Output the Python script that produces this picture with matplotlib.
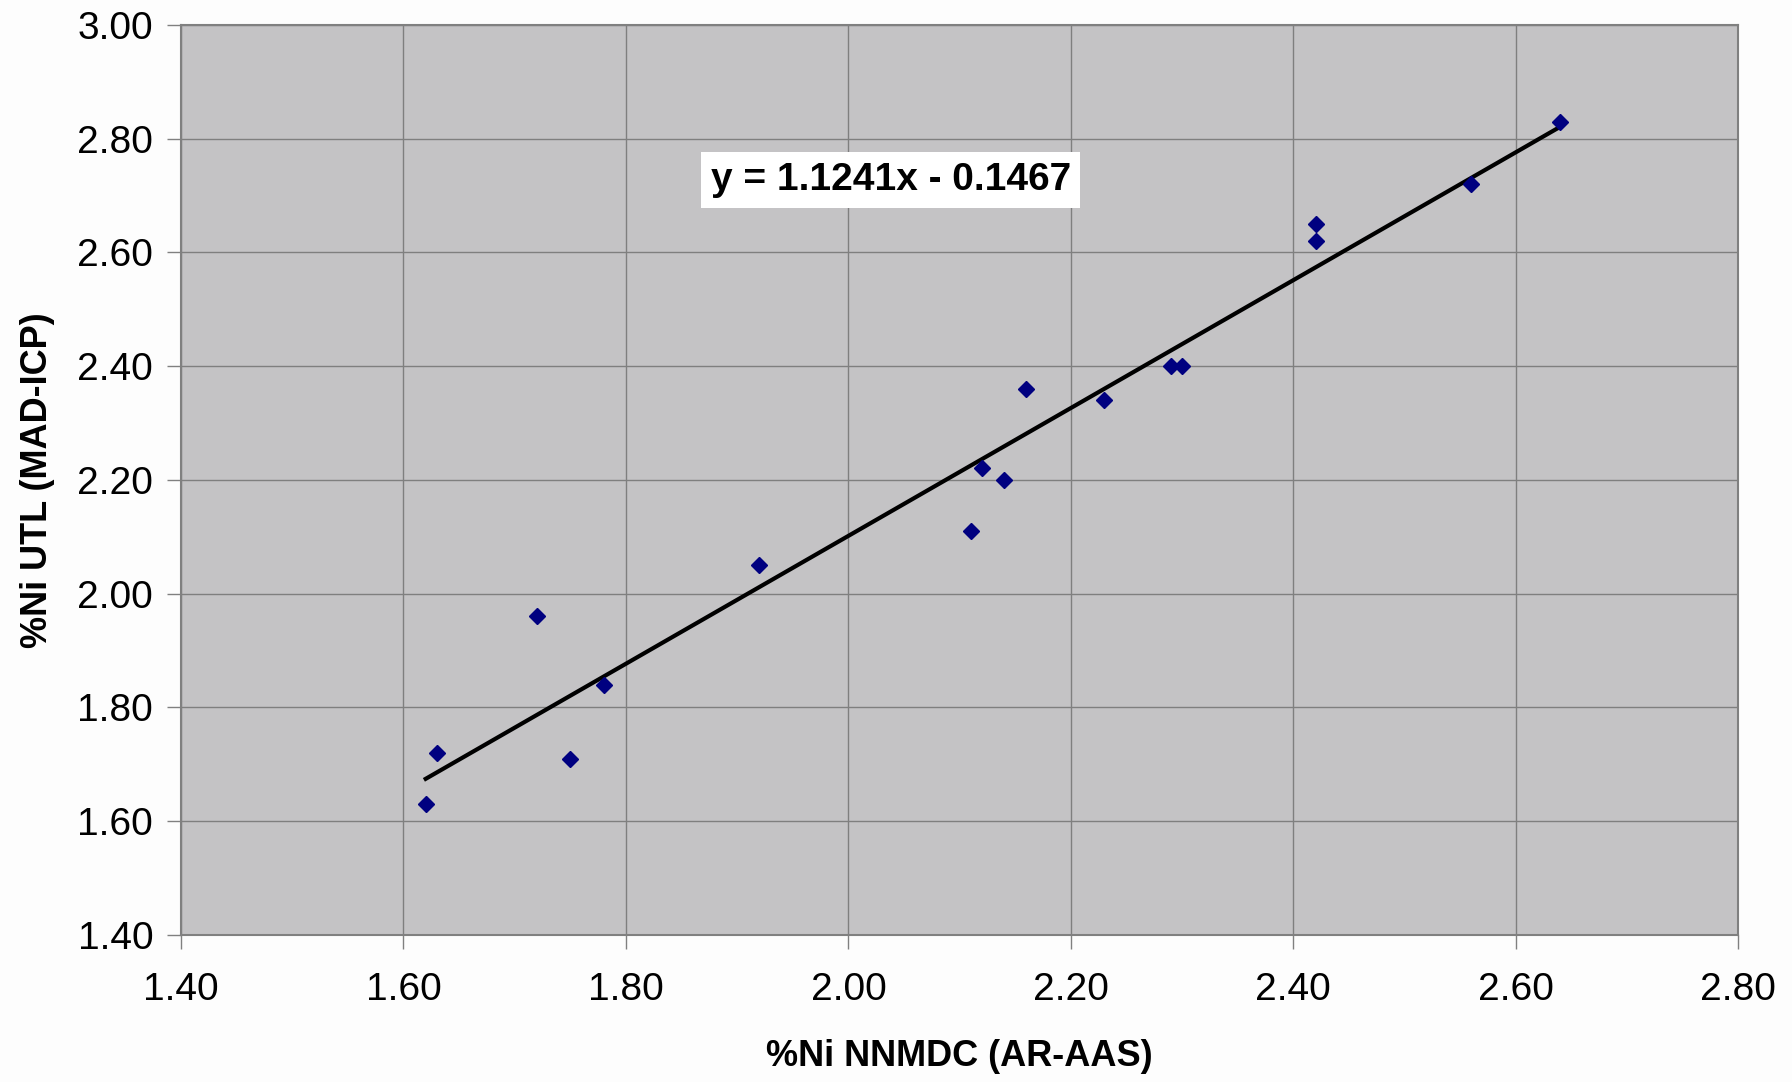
import matplotlib.pyplot as plt
import numpy as np

plt.rcParams['font.family'] = ['Liberation Sans', 'DejaVu Sans']

# %Ni NNMDC (AR-AAS) vs %Ni UTL (MAD-ICP)
ni_nnmdc = [1.62, 1.63, 1.72, 1.75, 1.78, 1.92, 2.11, 2.12, 2.14, 2.16,
            2.23, 2.29, 2.30, 2.42, 2.42, 2.56, 2.64]
ni_utl = [1.63, 1.72, 1.96, 1.71, 1.84, 2.05, 2.11, 2.22, 2.20, 2.36,
          2.34, 2.40, 2.40, 2.65, 2.62, 2.72, 2.83]

slope = 1.1241
intercept = -0.1467

ticks = [1.40, 1.60, 1.80, 2.00, 2.20, 2.40, 2.60, 2.80, 3.00]

fig = plt.figure(figsize=(17.92, 10.82), dpi=100)
ax = fig.add_axes([0.101, 0.136, 0.869, 0.841])
ax.set_facecolor('#c4c3c5')

ax.set_xlim(1.40, 2.80)
ax.set_ylim(1.40, 3.00)
ax.set_xticks(ticks[:-1])
ax.set_yticks(ticks)
ax.set_xticklabels([f'{t:.2f}' for t in ticks[:-1]])
ax.set_yticklabels([f'{t:.2f}' for t in ticks])
ax.grid(True, color='#7f7f7f', linewidth=1.0)
ax.set_axisbelow(True)
for s in ax.spines.values():
    s.set_color('#808080')
    s.set_linewidth(1.5)
ax.tick_params(length=10, width=1.0, color='#808080', labelsize=28, pad=10)
ax.tick_params(axis='x', pad=17)

# trendline
xs = np.array([min(ni_nnmdc), max(ni_nnmdc)])
ax.plot(xs, slope * xs + intercept, color='black', linewidth=3.0, zorder=3)

ax.plot(ni_nnmdc, ni_utl, 'D', color='#000080', markersize=8.5, zorder=4)

ax.text(2.038, 2.727, f'y = {slope:.4f}x - {abs(intercept):.4f}',
        fontsize=28, fontweight='bold', ha='center', va='center',
        bbox=dict(facecolor='white', edgecolor='none', pad=7))

ax.set_xlabel('%Ni NNMDC (AR-AAS)', fontsize=26, fontweight='bold', labelpad=22)
ax.set_ylabel('%Ni UTL (MAD-ICP)', fontsize=26, fontweight='bold', labelpad=16)

fig.savefig('out.png', dpi=100, facecolor='#fdfdfd')
